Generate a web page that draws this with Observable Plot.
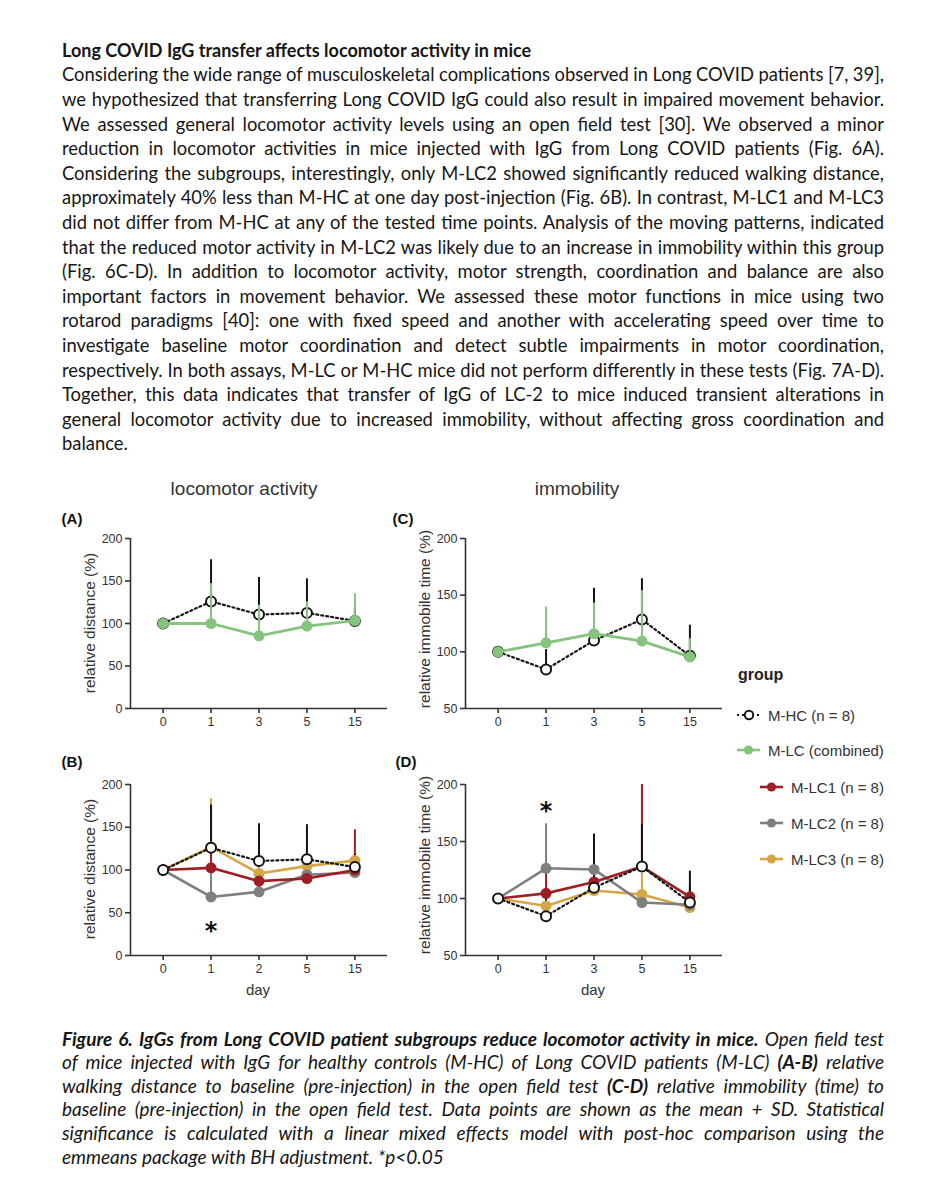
<!DOCTYPE html>
<html><head><meta charset="utf-8">
<script src="https://cdn.jsdelivr.net/npm/d3@7"></script>
<script src="https://cdn.jsdelivr.net/npm/@observablehq/plot@0.6"></script>
<style>
body{margin:0;background:#fff;}
#page{position:relative;width:934px;height:1200px;background:#fff;overflow:hidden;}
.tl{position:absolute;left:62px;width:822px;white-space:pre;font-family:Lato,'Noto Sans',sans-serif;line-height:24px;color:#161616;}
.cap{font-style:italic;}
.lab{position:absolute;font-family:'Liberation Sans',Arial,sans-serif;color:#333;white-space:nowrap;}
.rot{transform:translate(-50%,-50%) rotate(-90deg);}
.ctr{transform:translate(-50%,-50%);}
.panel{position:absolute;}
.leg{position:absolute;font-family:'Liberation Sans',Arial,sans-serif;font-size:15px;color:#333;white-space:nowrap;}
</style></head><body><div id="page"></div><script>
// ---------- data ----------
const daysA = ["0","1","3","5","15"];
const daysB = ["0","1","2","5","15"];
const daysC = ["0","1","3","5","15"];
const daysD = ["0","1","3","5","15"];
const ticksDistance = [0,50,100,150,200];
const ticksImmobile = [50,100,150,200];

// (A) relative distance
const A_HC_mean = [100, 126, 110.5, 112.5, 103];
const A_HC_top  = [100, 175, 154, 152.5, 118];
const A_LC_mean = [100, 100, 85.5, 97, 103.5];
const A_LC_top  = [100, 147, 121.5, 125.5, 135];
// (C) relative immobile time
const C_HC_mean = [100, 84.5, 110, 128.5, 96.5];
const C_HC_top  = [100, 102, 156, 164.5, 123.5];
const C_LC_mean = [100, 108, 116, 109.5, 95.5];
const C_LC_top  = [100, 139.5, 143, 154, 111.5];
// (B) relative distance by subgroup
const B_HC_mean  = [100, 126, 110.5, 112.5, 103.5];
const B_HC_top   = [100, 176, 154, 153, 118];
const B_LC1_mean = [100, 102.5, 87, 90, 100];
const B_LC1_top  = [100, 122, 97, 99, 147];
const B_LC2_mean = [100, 68.5, 74.5, 94.5, 97];
const B_LC2_top  = [100, 101, 88, 104, 106];
const B_LC3_mean = [100, 127, 96, 104.5, 111];
const B_LC3_top  = [100, 183.5, 110, 116, 119];
// (D) relative immobile time by subgroup
const D_HC_mean  = [100, 84.5, 109.5, 128, 96.5];
const D_HC_top   = [100, 104, 156.5, 165, 124];
const D_LC1_mean = [100, 104.5, 114.5, 128, 101.5];
const D_LC1_top  = [100, 127.5, 124, 200, 110];
const D_LC2_mean = [100, 126.5, 125.5, 96.5, 94.5];
const D_LC2_top  = [100, 165.5, 140, 104, 99];
const D_LC3_mean = [100, 93.5, 107, 103.5, 92];
const D_LC3_top  = [100, 99, 111, 122, 96];
// significance marks
const starDayB = ["1"], starValueB = [37];
const starDayD = ["1"], starValueD = [183];

const groupNames = ["M-HC (n = 8)","M-LC (combined)","M-LC1 (n = 8)","M-LC2 (n = 8)","M-LC3 (n = 8)"];
const groupColors = ["#151515","#84c47d","#9b1f25","#7f7f7f","#d5a648"];

const bodyLines = [
"Considering the wide range of musculoskeletal complications observed in Long COVID patients [7, 39],",
"we hypothesized that transferring Long COVID IgG could also result in impaired movement behavior.",
"We assessed general locomotor activity levels using an open field test [30]. We observed a minor",
"reduction in locomotor activities in mice injected with IgG from Long COVID patients (Fig. 6A).",
"Considering the subgroups, interestingly, only M-LC2 showed significantly reduced walking distance,",
"approximately 40% less than M-HC at one day post-injection (Fig. 6B). In contrast, M-LC1 and M-LC3",
"did not differ from M-HC at any of the tested time points. Analysis of the moving patterns, indicated",
"that the reduced motor activity in M-LC2 was likely due to an increase in immobility within this group",
"(Fig. 6C-D). In addition to locomotor activity, motor strength, coordination and balance are also",
"important factors in movement behavior. We assessed these motor functions in mice using two",
"rotarod paradigms [40]: one with fixed speed and another with accelerating speed over time to",
"investigate baseline motor coordination and detect subtle impairments in motor coordination,",
"respectively. In both assays, M-LC or M-HC mice did not perform differently in these tests (Fig. 7A-D).",
"Together, this data indicates that transfer of IgG of LC-2 to mice induced transient alterations in",
"general locomotor activity due to increased immobility, without affecting gross coordination and",
"balance."
];
const captionLines = [
"<b>Figure 6. IgGs from Long COVID patient subgroups reduce locomotor activity in mice.</b> Open field test",
"of mice injected with IgG for healthy controls (M-HC) of Long COVID patients (M-LC) <b>(A-B)</b> relative",
"walking distance to baseline (pre-injection) in the open field test <b>(C-D)</b> relative immobility (time) to",
"baseline (pre-injection) in the open field test. Data points are shown as the mean + SD. Statistical",
"significance is calculated with a linear mixed effects model with post-hoc comparison using the",
"emmeans package with BH adjustment. *p&lt;0.05"
];

// ---------- page text ----------
const page = document.getElementById("page");
function textLine(html, baseline, justify, fs, cls){
  const d = document.createElement("div");
  d.className = "tl " + (cls||"");
  d.style.fontSize = fs + "px";
  const off = (24 - 1.2*fs)/2 + 0.987*fs;
  d.style.top = (baseline - off) + "px";
  const s = document.createElement("span");
  s.innerHTML = html;
  d.appendChild(s);
  page.appendChild(d);
  if (justify){
    const w = s.getBoundingClientRect().width;
    const n = (s.textContent.match(/ /g)||[]).length;
    if (n) d.style.wordSpacing = ((822 - w)/n) + "px";
  }
}
textLine("<b>Long COVID IgG transfer affects locomotor activity in mice</b>", 57, false, 18);
bodyLines.forEach((t,k)=> textLine(t, 57 + 24.6*(k+1), k < bodyLines.length-1, 18.4));
captionLines.forEach((t,k)=> textLine(t, 1046 + 23.6*k, k < captionLines.length-1, 19, "cap"));

function label(text, x, y, size, opts={}){
  const d = document.createElement("div");
  d.className = "lab " + (opts.cls||"ctr");
  d.style.left = x + "px"; d.style.top = y + "px";
  d.style.fontSize = size + "px";
  if (opts.bold) d.style.fontWeight = "bold";
  if (opts.color) d.style.color = opts.color;
  d.textContent = text;
  page.appendChild(d);
}
label("locomotor activity", 244, 489, 19);
label("immobility", 577, 489, 19);
label("(A)", 72, 518, 15, {bold:true, color:"#111"});
label("(C)", 403, 518, 15, {bold:true, color:"#111"});
label("(B)", 72, 761, 15, {bold:true, color:"#111"});
label("(D)", 406, 761, 15, {bold:true, color:"#111"});
label("relative distance (%)", 90, 623, 15.5, {cls:"rot"});
label("relative immobile time (%)", 425, 619, 15.5, {cls:"rot"});
label("relative distance (%)", 90, 869, 15.5, {cls:"rot"});
label("relative immobile time (%)", 425, 865, 15.5, {cls:"rot"});
label("day", 258, 989, 15);
label("day", 593, 989, 15);

// ---------- panels ----------
const XDOM = [-0.68, 4.68];
function rows(days, mean, top){ return days.map((d,i)=>({i, day:d, mean:mean[i], top:top[i]})); }
function starRows(days, sd, sv){ return sd.map((d,k)=>({i: days.indexOf(d), y: sv[k]})); }

function panel({left, top, frameH, days, yDomain, yTicks, hc, groups, stars}){
  const mL = 60, mT = 15, mB = 40, fw = 257, W = mL + fw + 10;
  const marks = [
    Plot.ruleY([yDomain[0]], {stroke:"#333", strokeWidth:1.6}),
    Plot.ruleX([XDOM[0]], {stroke:"#333", strokeWidth:1.6}),
    Plot.axisY({ticks: yTicks, tickSize:5, tickPadding:3, label:null, strokeWidth:1.6, stroke:"#333"}),
    Plot.axisX({ticks: [0,1,2,3,4], tickFormat: i => days[i], tickSize:5, tickPadding:4, label:null, strokeWidth:1.6, stroke:"#333"})
  ];
  const hcFirst = groups.length === 1;
  const hcMarks = [
    Plot.ruleX(hc.filter(d=>d.i>0), {x:"i", y1:"mean", y2:"top", stroke:groupColors[0], strokeWidth:2}),
    Plot.line(hc, {x:"i", y:"mean", stroke:groupColors[0], strokeWidth:2.2, strokeDasharray:"2,3"}),
    Plot.dot(hc, {x:"i", y:"mean", r:5, fill:"white", stroke:groupColors[0], strokeWidth:2})
  ];
  if (hcFirst){
    const g = groups[0];
    marks.push(...hcMarks,
      Plot.ruleX(g.data.filter(d=>d.i>0), {x:"i", y1:"mean", y2:"top", stroke:g.color, strokeWidth:2}),
      Plot.line(g.data, {x:"i", y:"mean", stroke:g.color, strokeWidth:2.8}),
      Plot.dot(g.data, {x:"i", y:"mean", r:5.5, fill:g.color}));
  } else {
    groups.forEach(g => marks.push(Plot.ruleX(g.data.filter(d=>d.i>0), {x:"i", y1:"mean", y2:"top", stroke:g.color, strokeWidth:2})));
    marks.push(hcMarks[0]);
    groups.forEach(g => marks.push(Plot.line(g.data, {x:"i", y:"mean", stroke:g.color, strokeWidth:2.6})));
    groups.forEach(g => marks.push(Plot.dot(g.data, {x:"i", y:"mean", r:5.5, fill:g.color})));
    marks.push(hcMarks[1], hcMarks[2]);
  }
  if (stars) marks.push(Plot.text(stars, {x:"i", y:"y", text:()=>"*", fontSize:24, fontWeight:"bold", fill:"#111", dy:7, fontFamily:"DejaVu Sans"}));
  const svg = Plot.plot({
    width: W, height: mT + frameH + mB,
    marginLeft: mL, marginRight: W - mL - fw, marginTop: mT, marginBottom: mB,
    x: {type:"linear", domain: XDOM},
    y: {domain: yDomain},
    style: {background:"transparent", fontFamily:"'Liberation Sans', Arial, sans-serif", fontSize:"12.5px", color:"#333", overflow:"visible"},
    marks
  });
  svg.classList.add("panel");
  svg.style.left = left + "px"; svg.style.top = top + "px";
  page.appendChild(svg);
}

panel({left:70, top:523, frameH:170, days:daysA, yDomain:[0,200], yTicks:ticksDistance,
  hc: rows(daysA, A_HC_mean, A_HC_top),
  groups:[{color:groupColors[1], data: rows(daysA, A_LC_mean, A_LC_top)}]});
panel({left:405, top:523, frameH:170, days:daysC, yDomain:[50,200], yTicks:ticksImmobile,
  hc: rows(daysC, C_HC_mean, C_HC_top),
  groups:[{color:groupColors[1], data: rows(daysC, C_LC_mean, C_LC_top)}]});
panel({left:70, top:769, frameH:171, days:daysB, yDomain:[0,200], yTicks:ticksDistance,
  hc: rows(daysB, B_HC_mean, B_HC_top),
  groups:[
    {color:groupColors[4], data: rows(daysB, B_LC3_mean, B_LC3_top)},
    {color:groupColors[3], data: rows(daysB, B_LC2_mean, B_LC2_top)},
    {color:groupColors[2], data: rows(daysB, B_LC1_mean, B_LC1_top)}],
  stars: starRows(daysB, starDayB, starValueB)});
panel({left:405, top:769, frameH:171, days:daysD, yDomain:[50,200], yTicks:ticksImmobile,
  hc: rows(daysD, D_HC_mean, D_HC_top),
  groups:[
    {color:groupColors[4], data: rows(daysD, D_LC3_mean, D_LC3_top)},
    {color:groupColors[3], data: rows(daysD, D_LC2_mean, D_LC2_top)},
    {color:groupColors[2], data: rows(daysD, D_LC1_mean, D_LC1_top)}],
  stars: starRows(daysD, starDayD, starValueD)});

// ---------- legend ----------
label("group", 738, 675, 16, {bold:true, cls:"lv", color:"#222"});
page.lastChild.style.transform = "translateY(-50%)";
const legY = [715, 750, 787, 823, 859];
const legX = [736, 736, 759, 759, 759];
groupNames.forEach((name, k) => {
  const ns = "http://www.w3.org/2000/svg";
  const s = document.createElementNS(ns, "svg");
  s.setAttribute("width", 26); s.setAttribute("height", 14);
  s.style.position = "absolute"; s.style.left = legX[k] + "px"; s.style.top = (legY[k]-7) + "px";
  const c = groupColors[k];
  if (k === 0){
    s.innerHTML = `<line x1="1" y1="7" x2="25" y2="7" stroke="${c}" stroke-width="2" stroke-dasharray="2,3"/>`+
      `<circle cx="13" cy="7" r="4.2" fill="white" stroke="${c}" stroke-width="2"/>`;
  } else {
    s.innerHTML = `<line x1="1" y1="7" x2="24" y2="7" stroke="${c}" stroke-width="2.6"/>`+
      `<circle cx="12.5" cy="7" r="4.6" fill="${c}"/>`;
  }
  page.appendChild(s);
  const t = document.createElement("div");
  t.className = "leg";
  t.style.left = (legX[k] + 32) + "px"; t.style.top = legY[k] + "px";
  t.style.transform = "translateY(-50%)";
  t.textContent = name;
  page.appendChild(t);
});
</script></body></html>
